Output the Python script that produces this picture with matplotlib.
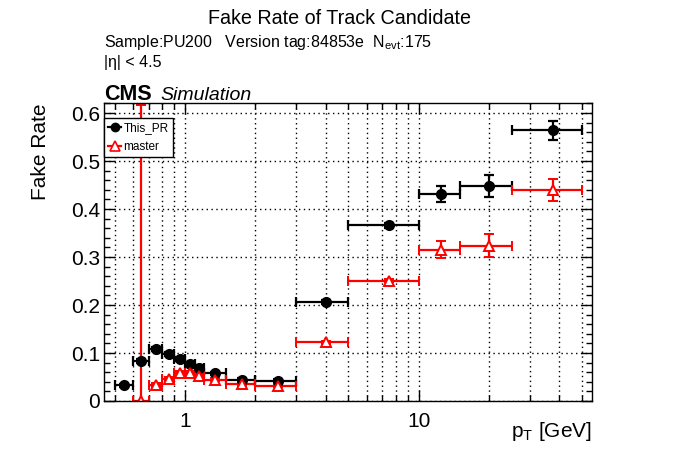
import numpy as np
import matplotlib
matplotlib.use('Agg')
import matplotlib.pyplot as plt
from matplotlib.lines import Line2D
from matplotlib.ticker import FixedLocator, MultipleLocator, FuncFormatter, NullFormatter, LogLocator

plt.rcParams['font.family'] = ['Liberation Sans', 'DejaVu Sans']
plt.rcParams['mathtext.fontset'] = 'custom'
plt.rcParams['mathtext.rm'] = 'Liberation Sans'
plt.rcParams['mathtext.it'] = 'Liberation Sans:italic'

# pT bins [GeV]
bin_lo = [0.5, 0.6, 0.7, 0.8, 0.9, 1.0, 1.1, 1.2, 1.5, 2.0, 3.0, 5.0, 10.0, 15.0, 25.0]
bin_hi = [0.6, 0.7, 0.8, 0.9, 1.0, 1.1, 1.2, 1.5, 2.0, 3.0, 5.0, 10.0, 15.0, 25.0, 50.0]

# fake rate, this PR
this_pr = [0.033, 0.083, 0.108, 0.098, 0.0875, 0.0765, 0.069, 0.0575, 0.044, 0.042,
           0.206, 0.366, 0.431, 0.448, 0.564]
this_pr_err = [0.003, 0.004, 0.004, 0.004, 0.004, 0.004, 0.004, 0.003, 0.003, 0.003,
               0.004, 0.005, 0.017, 0.023, 0.020]

# fake rate, master (first bin empty)
master = [np.nan, 0.0, 0.033, 0.0465, 0.059, 0.0575, 0.052, 0.044, 0.0345, 0.032,
          0.122, 0.251, 0.315, 0.324, 0.440]
master_err_lo = [0.0, 0.0, 0.004, 0.004, 0.004, 0.004, 0.004, 0.003, 0.003, 0.003,
                 0.004, 0.004, 0.018, 0.023, 0.023]
master_err_hi = [0.0, 0.617, 0.004, 0.004, 0.004, 0.004, 0.004, 0.003, 0.003, 0.003,
                 0.004, 0.004, 0.018, 0.023, 0.023]

lo = np.array(bin_lo)
hi = np.array(bin_hi)
xc = 0.5 * (lo + hi)
xerr = [xc - lo, hi - xc]

fig = plt.figure(figsize=(6.96, 4.72), dpi=100)
W, H = 696.0, 472.0
ax = fig.add_axes([104 / W, 1 - 401 / H, (592 - 104) / W, (401 - 103) / H])

ax.set_xscale('log')
ax.set_xlim(0.45, 55.2)
ax.set_ylim(0, 0.621)

ax.grid(True, which='both', axis='x', color='black', linestyle=(0, (1, 2.5)), linewidth=1.0)
ax.grid(True, which='major', axis='y', color='black', linestyle=(0, (1, 2.5)), linewidth=1.0)

ax.errorbar(xc, this_pr, yerr=this_pr_err, xerr=xerr, fmt='o', color='black',
            markersize=7, elinewidth=1.6, capsize=3.5, capthick=1.6)
m = np.array(master)
ok = ~np.isnan(m)
ax.errorbar(xc[ok], m[ok],
            yerr=[np.array(master_err_lo)[ok], np.array(master_err_hi)[ok]],
            xerr=[xerr[0][ok], xerr[1][ok]], fmt='^', color='red',
            markerfacecolor='white', markeredgecolor='red', markeredgewidth=1.4,
            markersize=7.5, elinewidth=1.6, capsize=3.5, capthick=1.6)

ax.xaxis.set_major_locator(FixedLocator([1, 10]))
ax.xaxis.set_major_formatter(FuncFormatter(lambda v, p: '%d' % v))
ax.xaxis.set_minor_locator(LogLocator(base=10, subs=np.arange(2, 10)))
ax.xaxis.set_minor_formatter(NullFormatter())
ax.yaxis.set_major_locator(MultipleLocator(0.1))
ax.yaxis.set_minor_locator(MultipleLocator(0.02))
ax.yaxis.set_major_formatter(FuncFormatter(lambda v, p: '0' if abs(v) < 1e-9 else '%.1f' % v))

ax.tick_params(which='both', direction='in', top=True, right=True, labelsize=15)
ax.tick_params(which='major', length=8, width=1)
ax.tick_params(which='minor', length=4, width=1)
ax.tick_params(axis='x', pad=8)
ax.tick_params(axis='y', pad=3)
for s in ax.spines.values():
    s.set_linewidth(1.0)

h1 = Line2D([], [], color='black', marker='o', markersize=6, linewidth=1.6)
h2 = Line2D([], [], color='red', marker='^', markersize=6.5, linewidth=1.6,
            markerfacecolor='white', markeredgewidth=1.2)
leg = fig.legend(handles=[h1, h2], labels=['This_PR', 'master'], loc='upper left',
                 bbox_to_anchor=(104 / W, 1 - 118 / H), fontsize=8.5, frameon=True,
                 fancybox=False, edgecolor='black', framealpha=1, borderaxespad=0,
                 borderpad=0.35, handlelength=1.1, handletextpad=0.2, labelspacing=0.6)
leg.get_frame().set_linewidth(1.0)

fig.text(339 / W, 1 - 24.5 / H, 'Fake Rate of Track Candidate', ha='center', va='baseline', fontsize=14.2)
fig.text(104 / W, 1 - 47 / H, r'Sample:PU200   Version tag:84853e  N$_{\mathrm{evt}}$:175',
         ha='left', va='baseline', fontsize=11.5)
fig.text(104 / W, 1 - 67.5 / H, '|η| < 4.5', ha='left', va='baseline', fontsize=11.5)
fig.text(104 / W, 1 - 100 / H, 'CMS', ha='left', va='baseline', fontsize=15.5, fontweight='bold')
fig.text(160 / W, 1 - 100 / H, 'Simulation', ha='left', va='baseline', fontsize=14, fontstyle='italic')

fig.text(40 / W, 1 - 103 / H, 'Fake Rate', rotation=90, ha='center', va='top', fontsize=15)
fig.text(592 / W, 1 - 437 / H, r'p$_{\mathrm{T}}$ [GeV]', ha='right', va='baseline', fontsize=15)

fig.savefig('out.png', dpi=100)
